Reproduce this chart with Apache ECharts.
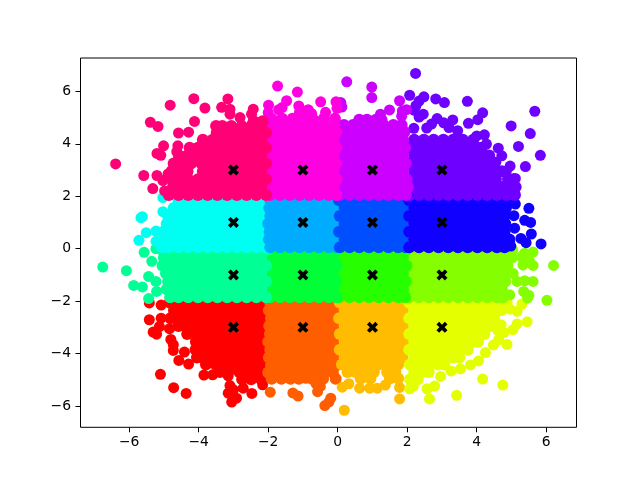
<!DOCTYPE html>
<html>
<head>
<meta charset="utf-8">
<style>html,body{margin:0;padding:0;background:#fff}#c{width:640px;height:480px}</style>
<script src="https://cdn.jsdelivr.net/npm/echarts@6/dist/echarts.min.js"></script>
</head>
<body>
<div id="c"></div>
<script>
const xTicks = [-6,-4,-2,0,2,4,6];
const yTicks = [-6,-4,-2,0,2,4,6];
const centersX = [-3,-1,1,3];
const centersY = [-3,-1,1,3];
const colors = ['#ff0000','#ff5e00','#ffbc00','#e4ff00','#85ff00','#27ff00','#00ff37','#00ff95','#00fff3','#00acff','#004fff','#0f00ff','#6e00ff','#cc00ff','#ff00e0','#ff0077'];

// Core rows: first number is y, the rest are x. Loose rows: [x, y].
const coreRed = [
[-2.05,-4.83,-4.55,-4.27,-3.99,-3.71,-3.43,-3.15,-2.87,-2.59,-2.31,-2.05],
[-2.35,-4.71,-4.41,-4.13,-3.85,-3.57,-3.29,-3.01,-2.73,-2.45,-2.17],
[-2.65,-4.81,-4.53,-4.27,-3.99,-3.71,-3.43,-3.15,-2.87,-2.59,-2.31,-2.03],
[-2.95,-4.58,-4.39,-4.13,-3.85,-3.57,-3.29,-3.01,-2.73,-2.45,-2.17],
[-3.25,-4.33,-4.05,-3.79,-3.51,-3.23,-2.95,-2.67,-2.39,-2.08],
[-3.55,-4.08,-3.93,-3.65,-3.37,-3.09,-2.81,-2.53,-2.25],
[-3.85,-4.09,-3.81,-3.53,-3.25,-2.97,-2.69,-2.41,-2.1],
[-4.15,-4.05,-3.89,-3.61,-3.33,-3.05,-2.77,-2.49,-2.21],
[-4.42,-3.79,-3.51,-3.23,-2.95,-2.67,-2.39,-2.08],
[-4.7,-3.39,-3.15,-2.83,-2.53,-2.25],
[-4.98,-2.75,-2.49,-2.2]];
const looseRed = [[-5.42,-2.07],[-5.42,-2.71],[-5.31,-3.18],[-5.21,-3.26],[-5.08,-2.65],[-5.13,-2.97],[-4.84,-3.05],[-4.8,-3.46],[-4.73,-3.66],[-4.73,-3.88],[-4.41,-3.94],[-4.57,-4.26],[-4.29,-4.4],[-5.1,-4.79],[-4.72,-5.3],[-4.36,-5.52],[-3.85,-4.82],[-3.6,-4.81],[-3.15,-4.85],[-3.1,-5.22],[-3,-5.38],[-3.15,-5.51],[-2.91,-5.7],[-3.05,-5.85],[-2.72,-5.32],[-2.47,-5.52],[-2.16,-5.19],[-5.08,-2.15]];

const coreVermilion = [
[-2.05,-1.94,-1.66,-1.38,-1.1,-.82,-.54,-.26,-.04],
[-2.35,-1.98,-1.8,-1.52,-1.24,-.96,-.68,-.4,-.12],
[-2.65,-1.92,-1.66,-1.38,-1.1,-.82,-.54,-.26,-.03],
[-2.95,-1.97,-1.78,-1.52,-1.24,-.96,-.68,-.4,-.12],
[-3.25,-1.95,-1.66,-1.38,-1.1,-.82,-.54,-.26,-.05],
[-3.55,-2,-1.8,-1.52,-1.24,-.96,-.68,-.4,-.12],
[-3.85,-1.94,-1.66,-1.38,-1.1,-.82,-.54,-.26,-.03],
[-4.15,-1.98,-1.8,-1.52,-1.24,-.96,-.68,-.4,-.12],
[-4.45,-1.92,-1.66,-1.38,-1.1,-.82,-.54,-.26,-.05],
[-4.72,-2,-1.84,-1.52,-1.24,-.96,-.68,-.4,-.14],
[-4.96,-1.9,-1.62,-1.36,-1.12,-.74,-.42,-.06]];
const looseVermilion = [[-1.94,-5.47],[-1.29,-5.5],[-1.14,-5.62],[-.58,-5.45],[-.37,-5.98],[-.25,-5.84],[-.2,-5.7],[-.92,-4.94],[-.62,-5.15],[-.5,-5.25]];

const coreOrange = [
[-2.05,.06,.34,.62,.9,1.18,1.46,1.74,1.96],
[-2.35,.2,.48,.76,1.04,1.32,1.6,1.88],
[-2.65,.04,.34,.62,.9,1.18,1.46,1.74,1.98],
[-2.95,.2,.48,.76,1.04,1.32,1.6,1.88],
[-3.25,.06,.34,.62,.9,1.18,1.46,1.74,1.96],
[-3.55,.2,.48,.76,1.04,1.32,1.6,1.9],
[-3.85,.06,.34,.62,.9,1.18,1.46,1.74,1.94],
[-4.15,.2,.48,.76,1.04,1.32,1.6,1.86],
[-4.42,.12,.34,.62,.9,1.18,1.46,1.74],
[-4.7,.28,.52,.8,1.04,1.42,1.66],
[-4.95,.66,.94,1.5,1.74]];
const looseOrange = [[.13,-5.28],[.32,-5.15],[.63,-5.32],[.92,-5.32],[1.14,-5.32],[1.37,-5.2],[1.78,-5.29],[1.78,-5.73],[.19,-6.16]];

const coreYellow = [
[-2.05,2.06,2.34,2.62,2.9,3.18,3.46,3.74,4.02,4.3,4.58,4.86],
[-2.35,2.2,2.48,2.76,3.04,3.32,3.6,3.88,4.16,4.44,4.7],
[-2.65,2.06,2.34,2.62,2.9,3.18,3.46,3.74,4.02,4.3,4.5],
[-2.95,2.2,2.48,2.76,3.04,3.32,3.6,3.88,4.16,4.4],
[-3.25,2.06,2.34,2.62,2.9,3.18,3.46,3.74,4.02,4.22],
[-3.55,2.2,2.48,2.76,3.04,3.32,3.6,3.88,4.04],
[-3.85,2.06,2.34,2.62,2.9,3.18,3.46,3.74],
[-4.15,2.2,2.48,2.76,3.04,3.32,3.5],
[-4.42,2.08,2.34,2.62,2.9,3.06],
[-4.7,2.2,2.44,2.62],
[-4.98,2.08,2.3]];
const looseYellow = [[2.07,-5.34],[2.17,-5.25],[2.57,-5.34],[2.79,-5.24],[2.64,-5.73],[3.42,-5.59],[4.17,-4.97],[4.75,-5.2],[2.96,-4.87],[3.26,-4.66],[3.53,-4.58],[3.82,-4.43],[4.05,-4.28],[4.25,-3.96],[4.48,-3.67],[4.87,-3.65],[4.63,-3.47],[5.04,-3.09],[5.16,-2.87],[5.45,-2.79],[5.16,-2.39],[5.3,-2.11],[4.95,-2.3],[4.7,-2.9],[4.78,-3.2],[4.6,-3.1]];

const coreLime = [
[-.05,2.06,2.34,2.62,2.9,3.18,3.46,3.74,4.02,4.3,4.58,4.86,5.02],
[-.35,2.2,2.48,2.76,3.04,3.32,3.6,3.88,4.16,4.44,4.72,5.0],
[-.65,2.06,2.34,2.62,2.9,3.18,3.46,3.74,4.02,4.3,4.58,4.88],
[-.95,2.2,2.48,2.76,3.04,3.32,3.6,3.88,4.16,4.44,4.72,4.85],
[-1.25,2.06,2.34,2.62,2.9,3.18,3.46,3.74,4.02,4.3,4.58,4.82],
[-1.55,2.2,2.48,2.76,3.04,3.32,3.6,3.88,4.16,4.44,4.72],
[-1.85,2.06,2.34,2.62,2.9,3.18,3.46,3.74,4.02,4.3,4.58,4.76]];
const looseLime = [[6.21,-.64],[6.02,-1.97],[5.62,-.64],[5.62,-1.25],[5.38,-1.22],[5.62,-.13],[5.38,-.17],[5.52,-.48],[5.33,-.62],[5.35,-1.63],[5.5,-1.78],[5.46,-1.88],[5.16,-1.25],[4.95,-1.76],[5.29,-.3],[5.05,-.95]];

const coreGreen = [
[-.05,.06,.34,.62,.9,1.18,1.46,1.74,1.96],
[-.35,.2,.48,.76,1.04,1.32,1.6,1.88],
[-.65,.04,.34,.62,.9,1.18,1.46,1.74,1.98],
[-.95,.2,.48,.76,1.04,1.32,1.6,1.88],
[-1.25,.06,.34,.62,.9,1.18,1.46,1.74,1.96],
[-1.55,.2,.48,.76,1.04,1.32,1.6,1.88],
[-1.85,.04,.34,.62,.9,1.18,1.46,1.74,1.94]];

const coreSpring2 = [
[-.05,-1.94,-1.66,-1.38,-1.1,-.82,-.54,-.26,-.04],
[-.35,-1.98,-1.8,-1.52,-1.24,-.96,-.68,-.4,-.12],
[-.65,-1.96,-1.66,-1.38,-1.1,-.82,-.54,-.26,-.03],
[-.95,-2,-1.8,-1.52,-1.24,-.96,-.68,-.4,-.12],
[-1.25,-1.94,-1.66,-1.38,-1.1,-.82,-.54,-.26,-.05],
[-1.55,-1.97,-1.8,-1.52,-1.24,-.96,-.68,-.4,-.12],
[-1.85,-1.94,-1.66,-1.38,-1.1,-.82,-.54,-.26,-.04]];

const coreSpring = [
[-.05,-2.06,-2.34,-2.62,-2.9,-3.18,-3.46,-3.74,-4.02,-4.3,-4.58,-4.86,-5.04],
[-.35,-2.2,-2.48,-2.76,-3.04,-3.32,-3.6,-3.88,-4.16,-4.44,-4.72,-5],
[-.65,-2.06,-2.34,-2.62,-2.9,-3.18,-3.46,-3.74,-4.02,-4.3,-4.58,-4.86,-5.04],
[-.95,-2.2,-2.48,-2.76,-3.04,-3.32,-3.6,-3.88,-4.16,-4.44,-4.72,-4.94],
[-1.25,-2.06,-2.34,-2.62,-2.9,-3.18,-3.46,-3.74,-4.02,-4.3,-4.58,-4.88],
[-1.55,-2.2,-2.48,-2.76,-3.04,-3.32,-3.6,-3.88,-4.16,-4.44,-4.72,-4.92],
[-1.85,-2.06,-2.34,-2.62,-2.9,-3.18,-3.46,-3.74,-4.02,-4.3,-4.58,-4.82]];
const looseSpring = [[-6.76,-.7],[-6.08,-.84],[-5.87,-1.4],[-5.62,-1.46],[-5.44,-1.06],[-5.57,-.14],[-5.35,-.48],[-5.23,-1.25],[-5.44,-1.9],[-5.21,-1.63],[-5.23,0]];

const coreCyan = [
[.05,-2.06,-2.34,-2.62,-2.9,-3.18,-3.46,-3.74,-4.02,-4.3,-4.58,-4.86,-5.06],
[.35,-2.2,-2.48,-2.76,-3.04,-3.32,-3.6,-3.88,-4.16,-4.44,-4.72,-5.02],
[.65,-2.06,-2.34,-2.62,-2.9,-3.18,-3.46,-3.74,-4.02,-4.3,-4.58,-4.86,-5.02],
[.95,-2.2,-2.48,-2.76,-3.04,-3.32,-3.6,-3.88,-4.16,-4.44,-4.72,-4.92],
[1.25,-2.06,-2.34,-2.62,-2.9,-3.18,-3.46,-3.74,-4.02,-4.3,-4.58,-4.88],
[1.55,-2.2,-2.48,-2.76,-3.04,-3.32,-3.6,-3.88,-4.16,-4.44,-4.72],
[1.85,-2.06,-2.34,-2.62,-2.9,-3.18,-3.46,-3.74,-4.02,-4.3,-4.58]];
const looseCyan = [[-5.03,1.95],[-5.62,1.22],[-5.66,1.18],[-5.51,.61],[-5.72,.32],[-5.03,1.41],[-5.23,.67],[-5.23,.28]];

const coreSky = [
[.05,-1.94,-1.66,-1.38,-1.1,-.82,-.54,-.26,-.04],
[.35,-1.98,-1.8,-1.52,-1.24,-.96,-.68,-.4,-.12],
[.65,-1.96,-1.66,-1.38,-1.1,-.82,-.54,-.26,-.03],
[.95,-2,-1.8,-1.52,-1.24,-.96,-.68,-.4,-.12],
[1.25,-1.94,-1.66,-1.38,-1.1,-.82,-.54,-.26,-.05],
[1.55,-1.97,-1.8,-1.52,-1.24,-.96,-.68,-.4,-.12],
[1.85,-1.94,-1.66,-1.38,-1.1,-.82,-.54,-.26,-.04]];

const coreAzure = [
[.05,.06,.34,.62,.9,1.18,1.46,1.74,1.96],
[.35,.2,.48,.76,1.04,1.32,1.6,1.88],
[.65,.04,.34,.62,.9,1.18,1.46,1.74,1.98],
[.95,.2,.48,.76,1.04,1.32,1.6,1.88],
[1.25,.06,.34,.62,.9,1.18,1.46,1.74,1.96],
[1.55,.2,.48,.76,1.04,1.32,1.6,1.88],
[1.85,.04,.34,.62,.9,1.18,1.46,1.74,1.94]];

const coreBlue = [
[.05,2.06,2.34,2.62,2.9,3.18,3.46,3.74,4.02,4.3,4.58,4.8],
[.35,2.2,2.48,2.76,3.04,3.32,3.6,3.88,4.16,4.44,4.72,4.94],
[.65,2.06,2.34,2.62,2.9,3.18,3.46,3.74,4.02,4.3,4.58,4.8],
[.95,2.2,2.48,2.76,3.04,3.32,3.6,3.88,4.16,4.44,4.72,4.82],
[1.25,2.06,2.34,2.62,2.9,3.18,3.46,3.74,4.02,4.3,4.58,4.8],
[1.55,2.2,2.48,2.76,3.04,3.32,3.6,3.88,4.16,4.44,4.72,4.84],
[1.85,2.06,2.34,2.62,2.9,3.18,3.46,3.74,4.02,4.3,4.58,4.86]];
const looseBlue = [[5.5,1.54],[5.07,1.26],[5.38,1.08],[5.55,1],[5.09,.78],[5.57,.56],[5.27,.39],[5.42,.23],[5.85,.18],[5.11,1.7],[4.98,.1]];

const coreViolet = [
[2.05,2.06,2.34,2.62,2.9,3.18,3.46,3.74,4.02,4.3,4.58,4.86,5.1],
[2.35,2.2,2.48,2.76,3.04,3.32,3.6,3.88,4.16,4.44,4.72,5,5.12],
[2.65,2.06,2.34,2.62,2.9,3.18,3.46,3.74,4.02,4.3,4.55,4.9,5.05],
[2.95,2.2,2.48,2.76,3.04,3.32,3.6,3.88,4.16,4.44,4.72],
[3.25,2.06,2.34,2.62,2.9,3.18,3.46,3.74,4.02,4.3,4.5],
[3.55,2.2,2.48,2.76,3.04,3.32,3.6,3.88,4.16,4.36],
[3.85,2.06,2.34,2.62,2.9,3.18,3.46,3.74,4.02,4.14],
[4.15,2.2,2.48,2.76,3.04,3.32,3.6,3.9]];
const looseViolet = [[2.24,6.68],[2.07,5.85],[2.48,5.79],[2.34,5.63],[2.25,5.45],[2.19,5.28],[2.34,5.02],[2.46,5.13],[2.82,5.71],[3.07,5.57],[3.73,5.62],[4.17,5.18],[4.03,4.92],[3.76,4.78],[3.31,4.91],[5.67,5.24],[4.99,4.68],[5.54,4.39],[5.2,3.9],[5.83,3.56],[5.4,3.13],[4.96,3.15],[5.11,2.68],[4.62,3.83],[4.72,3.54],[4.22,4.34],[4.28,3.99],[2.19,4.59],[2.56,4.6],[2.86,4.96],[3.05,4.8],[2.7,4.75],[3.2,4.62],[3.45,4.5],[4.0,4.3],[4.55,3.3],[4.85,2.95]];

const corePurple = [
[2.05,.06,.34,.62,.9,1.18,1.46,1.74,1.96],
[2.35,.2,.48,.76,1.04,1.32,1.6,1.88,2.02],
[2.65,.04,.34,.62,.9,1.18,1.46,1.74,1.98],
[2.95,.2,.48,.76,1.04,1.32,1.6,1.88],
[3.25,.06,.34,.62,.9,1.18,1.46,1.74,1.96],
[3.55,.2,.48,.76,1.04,1.32,1.6,1.88],
[3.85,.06,.34,.62,.9,1.18,1.46,1.74,1.94],
[4.15,.2,.48,.76,1.04,1.32,1.6,1.88],
[4.45,.1,.34,.62,.9,1.18,1.46,1.74,1.92],
[4.72,.18,.44,.76,1.04,1.32,1.6,1.84],
[4.92,.62,.84,1.1,1.26]];
const loosePurple = [[.26,6.36],[.98,6.16],[.98,5.76],[1.78,5.64],[.09,5.57],[.12,5.4],[1.49,5.29],[1.23,5.13],[1.86,5.25],[1.98,5.3],[1.84,5.05]];

const coreMagenta = [
[2.05,-1.94,-1.66,-1.38,-1.1,-.82,-.54,-.26,-.04],
[2.35,-1.98,-1.8,-1.52,-1.24,-.96,-.68,-.4,-.12],
[2.65,-1.96,-1.66,-1.38,-1.1,-.82,-.54,-.26,-.03],
[2.95,-2,-1.8,-1.52,-1.24,-.96,-.68,-.4,-.12],
[3.25,-1.94,-1.66,-1.38,-1.1,-.82,-.54,-.26,-.05],
[3.55,-1.97,-1.8,-1.52,-1.24,-.96,-.68,-.4,-.12],
[3.85,-1.94,-1.66,-1.38,-1.1,-.82,-.54,-.26,-.04],
[4.15,-2,-1.8,-1.52,-1.24,-.96,-.68,-.4,-.12],
[4.45,-1.94,-1.66,-1.38,-1.1,-.82,-.54,-.26,-.04],
[4.72,-1.98,-1.8,-1.52,-1.24,-.96,-.68,-.4,-.12],
[4.95,-1.9,-1.6,-1.3,-1.0,-.72,-.4,-.08]];
const looseMagenta = [[-1.73,6.2],[-1.16,5.97],[-1.47,5.64],[-1.99,5.47],[-.49,5.6],[-1.12,5.44],[-1.6,5.38],[-1.7,5.3],[-2,5.19],[-.85,5.3],[-.35,5.2],[-.05,5.6],[-.02,5.35],[-1.1,5.2],[-.75,5.15]];

const corePink = [
[2.05,-2.06,-2.34,-2.62,-2.9,-3.18,-3.46,-3.74,-4.02,-4.3,-4.58,-4.86],
[2.35,-2.2,-2.48,-2.76,-3.04,-3.32,-3.6,-3.88,-4.16,-4.44,-4.74],
[2.65,-2.06,-2.34,-2.62,-2.9,-3.18,-3.46,-3.74,-4.02,-4.3,-4.52,-4.78],
[2.95,-2.2,-2.48,-2.76,-3.04,-3.32,-3.6,-3.88,-4.32,-4.54,-4.78],
[3.25,-2.06,-2.34,-2.62,-2.9,-3.18,-3.46,-3.74,-3.92,-4.22,-4.46,-4.72],
[3.55,-2.2,-2.48,-2.76,-3.04,-3.32,-3.6,-3.88,-4.08,-4.32,-4.57],
[3.85,-2.06,-2.34,-2.62,-2.9,-3.18,-3.46,-3.74,-4.02,-4.26],
[4.15,-2.2,-2.48,-2.76,-3.04,-3.32,-3.6,-3.88],
[4.42,-2.06,-2.34,-2.62,-2.9,-3.18,-3.48],
[4.68,-2.2,-2.48,-2.76,-3.06,-3.32,-3.5],
[4.86,-2.16,-2.42]];
const loosePink = [[-6.39,3.23],[-5.58,2.79],[-5.2,2.79],[-5.32,2.29],[-5.2,3.63],[-5.09,3.56],[-5.01,3.92],[-4.6,3.92],[-4.58,4.41],[-4.29,4.44],[-4.12,4.85],[-5.39,4.82],[-5.17,4.66],[-4.82,5.47],[-4.14,5.72],[-3.82,5.36],[-3.34,5.39],[-3.16,5.71],[-3.1,5.32],[-3.1,5.13],[-2.81,5],[-2.43,5.32],[-2.48,5.13],[-5.03,2.6],[-4.98,2.2],[-4.88,2.85],[-4.63,3.7]];

const clusters = [
[coreRed,looseRed],[coreVermilion,looseVermilion],[coreOrange,looseOrange],[coreYellow,looseYellow],
[coreLime,looseLime],[coreGreen,[]],[coreSpring2,[]],[coreSpring,looseSpring],
[coreCyan,looseCyan],[coreSky,[]],[coreAzure,[]],[coreBlue,looseBlue],
[coreViolet,looseViolet],[corePurple,loosePurple],[coreMagenta,looseMagenta],[corePink,loosePink]];

const centers = [];
centersY.forEach(y => centersX.forEach(x => centers.push([x,y])));

const series = clusters.map(([core,loose],i) => {
  const data = [];
  core.forEach(r => r.slice(1).forEach(x => data.push({value:[x,r[0]],symbolSize:12})));
  loose.forEach(p => data.push({value:p,symbolSize:11}));
  return {type:'scatter',data,symbol:'circle',symbolSize:11,silent:true,itemStyle:{color:colors[i],opacity:1},z:2+i*0.01,progressive:0,large:false};
});
series.push({type:'scatter',data:centers,silent:true,z:5,symbolSize:11,
  symbol:'path://M2.4 0L5 2.6L7.6 0L10 2.4L7.4 5L10 7.6L7.6 10L5 7.4L2.4 10L0 7.6L2.6 5L0 2.4Z',
  itemStyle:{color:'#000',opacity:1}});

const fmt = v => String(v).replace('-','\u2212');
const axisCommon = {
  type:'value',splitLine:{show:false},axisLine:{show:false,onZero:false},
  axisTick:{show:true,length:5,inside:false,lineStyle:{color:'#000',width:1}},
  axisLabel:{color:'#000',fontFamily:'DejaVu Sans',fontSize:13.9,formatter:fmt,showMinLabel:true,showMaxLabel:true}
};
const chart = echarts.init(document.getElementById('c'),null,{renderer:'canvas',width:640,height:480});
chart.setOption({
  animation:false,backgroundColor:'#fff',tooltip:{show:false},
  grid:{left:80.5,right:63.5,top:58,bottom:52.7,show:true,borderColor:'#000',borderWidth:1,backgroundColor:'transparent'},
  xAxis:Object.assign({},axisCommon,{min:-7.4,max:6.87,
    axisTick:Object.assign({},axisCommon.axisTick,{customValues:xTicks}),
    axisLabel:Object.assign({},axisCommon.axisLabel,{customValues:xTicks,margin:8})}),
  yAxis:Object.assign({},axisCommon,{min:-6.81,max:7.27,
    axisTick:Object.assign({},axisCommon.axisTick,{customValues:yTicks}),
    axisLabel:Object.assign({},axisCommon.axisLabel,{customValues:yTicks,margin:9.5,padding:[3,0,0,0]})}),
  series
});
</script>
</body>
</html>
